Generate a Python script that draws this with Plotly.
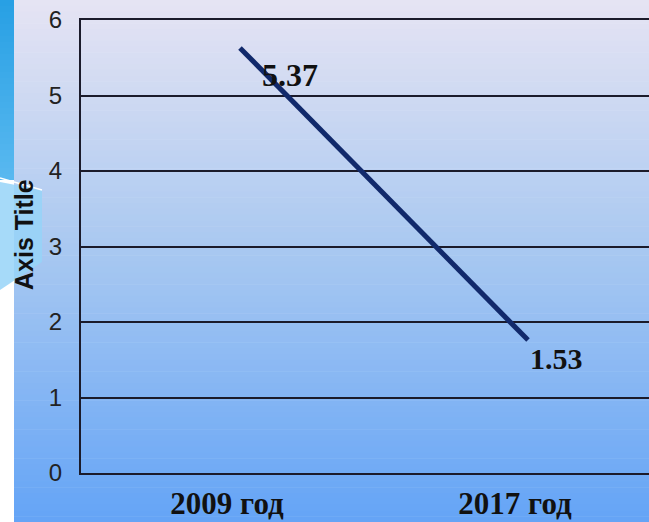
import plotly.graph_objects as go

# ---- data ----
years = ["2009 год", "2017 год"]
line_values = [5.63, 1.76]
label_texts = ["5.37", "1.53"]
y_ticks = [0, 1, 2, 3, 4, 5, 6]
axis_title = "Axis Title"

# ---- geometry helpers (pixel -> paper) ----
W, H = 649, 522
L, R, T, B = 81, 649, 20, 473


def px(x):
    return (x - L) / (R - L)


def py(y):
    return (B - y) / (B - T)


def lerp(c1, c2, t):
    return tuple(int(round(a + (b - a) * t)) for a, b in zip(c1, c2))


shapes = []
# background vertical gradient
stops = [(0, (230, 228, 243)), (260, (166, 199, 241)), (522, (100, 164, 246))]
N = 90
for i in range(N):
    y0 = H * i / N
    y1 = H * (i + 1) / N + 0.6
    ym = (y0 + y1) / 2
    for (ya, ca), (yb, cb) in zip(stops[:-1], stops[1:]):
        if ya <= ym <= yb:
            c = lerp(ca, cb, (ym - ya) / (yb - ya))
            break
    shapes.append(dict(type="rect", xref="paper", yref="paper", layer="below",
                       x0=px(14), x1=px(W), y0=py(y1), y1=py(y0),
                       fillcolor="rgb(%d,%d,%d)" % c, line=dict(width=0)))

# left decorative strip
M = 30
for i in range(M):
    y0 = 180 * i / M
    y1 = 180 * (i + 1) / M + 0.6
    c = lerp((40, 160, 228), (90, 185, 240), i / M)
    shapes.append(dict(type="rect", xref="paper", yref="paper", layer="below",
                       x0=px(0), x1=px(14), y0=py(y1), y1=py(y0),
                       fillcolor="rgb(%d,%d,%d)" % c, line=dict(width=0)))
shapes.append(dict(type="rect", xref="paper", yref="paper", layer="below",
                   x0=px(0), x1=px(14), y0=py(H), y1=py(180),
                   fillcolor="white", line=dict(width=0)))
wedge = "M %f,%f L %f,%f L %f,%f L %f,%f Z" % (
    px(0), py(182), px(42), py(190), px(42), py(262), px(0), py(290))
shapes.append(dict(type="path", xref="paper", yref="paper", layer="below",
                   path=wedge, fillcolor="rgba(150,212,248,0.85)",
                   line=dict(width=0)))
shapes.append(dict(type="line", xref="paper", yref="paper", layer="below",
                   x0=px(0), y0=py(178), x1=px(42), y1=py(190),
                   line=dict(color="white", width=1.5)))

fig = go.Figure()
fig.add_trace(go.Scatter(x=years, y=line_values, mode="lines",
                         line=dict(color="#11296b", width=5),
                         hoverinfo="skip", showlegend=False))

annotations = [
    dict(x=years[0], y=line_values[0], text="<b>%s</b>" % label_texts[0], showarrow=False,
         xanchor="center", yanchor="middle", xshift=50, yshift=-27,
         font=dict(family="Liberation Serif", size=32, color="#111111")),
    dict(x=years[1], y=line_values[1], text="<b>%s</b>" % label_texts[1], showarrow=False,
         xanchor="center", yanchor="middle", xshift=28, yshift=-18,
         font=dict(family="Liberation Serif", size=30, color="#111111")),
    dict(x=px(24), y=py(235), xref="paper", yref="paper", text="<b>%s</b>" % axis_title,
         textangle=-90, showarrow=False, xanchor="center", yanchor="middle",
         font=dict(family="Liberation Sans", size=25, color="#111111")),
]

fig.update_layout(
    width=W, height=H,
    margin=dict(l=L, r=W - R, t=T, b=H - B, pad=0),
    paper_bgcolor="white",
    plot_bgcolor="rgba(0,0,0,0)",
    shapes=shapes,
    annotations=annotations,
    showlegend=False,
    xaxis=dict(
        type="category",
        range=[-(240 - L) / 288, (R - 240) / 288],
        showgrid=False, zeroline=False,
        showline=True, mirror=True, linecolor="#1b1b2b", linewidth=2,
        ticks="",
        tickfont=dict(family="Liberation Serif", size=31, color="#111111"),
        tickprefix="<b>", ticksuffix="</b>",
        ticklabelshift=-13, ticklabelstandoff=2,
        fixedrange=True,
    ),
    yaxis=dict(
        range=[0, 6],
        tickvals=y_ticks,
        showgrid=True, gridcolor="#1b1b2b", gridwidth=2,
        zeroline=False,
        showline=True, linecolor="#1b1b2b", linewidth=2,
        ticks="", ticklabelstandoff=12,
        tickfont=dict(family="Liberation Sans", size=24, color="#222222"),
        fixedrange=True,
    ),
)

fig.write_html("out.html", config={"displayModeBar": False},
               post_script="document.body.style.margin='0px';document.body.style.overflow='hidden';")
